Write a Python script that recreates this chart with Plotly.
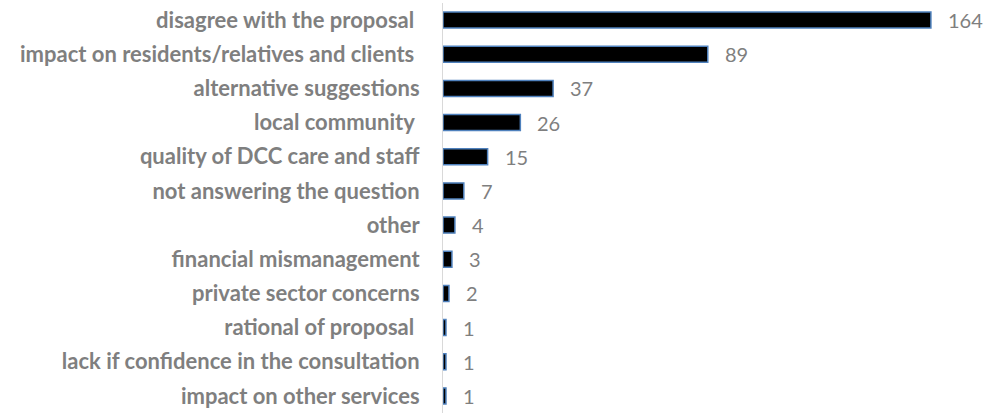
import plotly.graph_objects as go

categories = [
    "disagree with the proposal ",
    "impact on residents/relatives and clients ",
    "alternative suggestions",
    "local community ",
    "quality of DCC care and staff",
    "not answering the question",
    "other",
    "financial mismanagement",
    "private sector concerns",
    "rational of proposal ",
    "lack if confidence in the consultation",
    "impact on other services",
]
values = [164, 89, 37, 26, 15, 7, 4, 3, 2, 1, 1, 1]

fig = go.Figure()
fig.add_trace(go.Bar(
    x=values, y=categories, orientation="h",
    marker=dict(color="#000000", line=dict(color="#4F81BD", width=1.5)),
    width=0.47, hoverinfo="skip",
))

for c, v in zip(categories, values):
    fig.add_annotation(x=v, y=c, text=str(v), showarrow=False,
                       xanchor="left", xshift=15,
                       font=dict(family="Lato", size=20, color="#7f7f7f"))

fig.update_layout(
    width=984, height=413,
    margin=dict(l=443, r=4, t=3, b=0, autoexpand=False),
    plot_bgcolor="white", paper_bgcolor="white",
    showlegend=False,
    font=dict(family="Lato", size=16, color="#7f7f7f"),
    xaxis=dict(range=[0, 180.5], visible=False, showgrid=False, zeroline=False),
    yaxis=dict(autorange="reversed", showline=True, linecolor="#d9d9d9", linewidth=1,
               ticks="", ticklabelstandoff=18, showgrid=False, automargin=False,
               tickfont=dict(family="Lato", size=22, color="#7f7f7f", weight="bold")),
)

fig.write_html("out.html", config={"displayModeBar": False},
               post_script="document.body.style.margin='0';document.body.style.overflow='hidden';")
